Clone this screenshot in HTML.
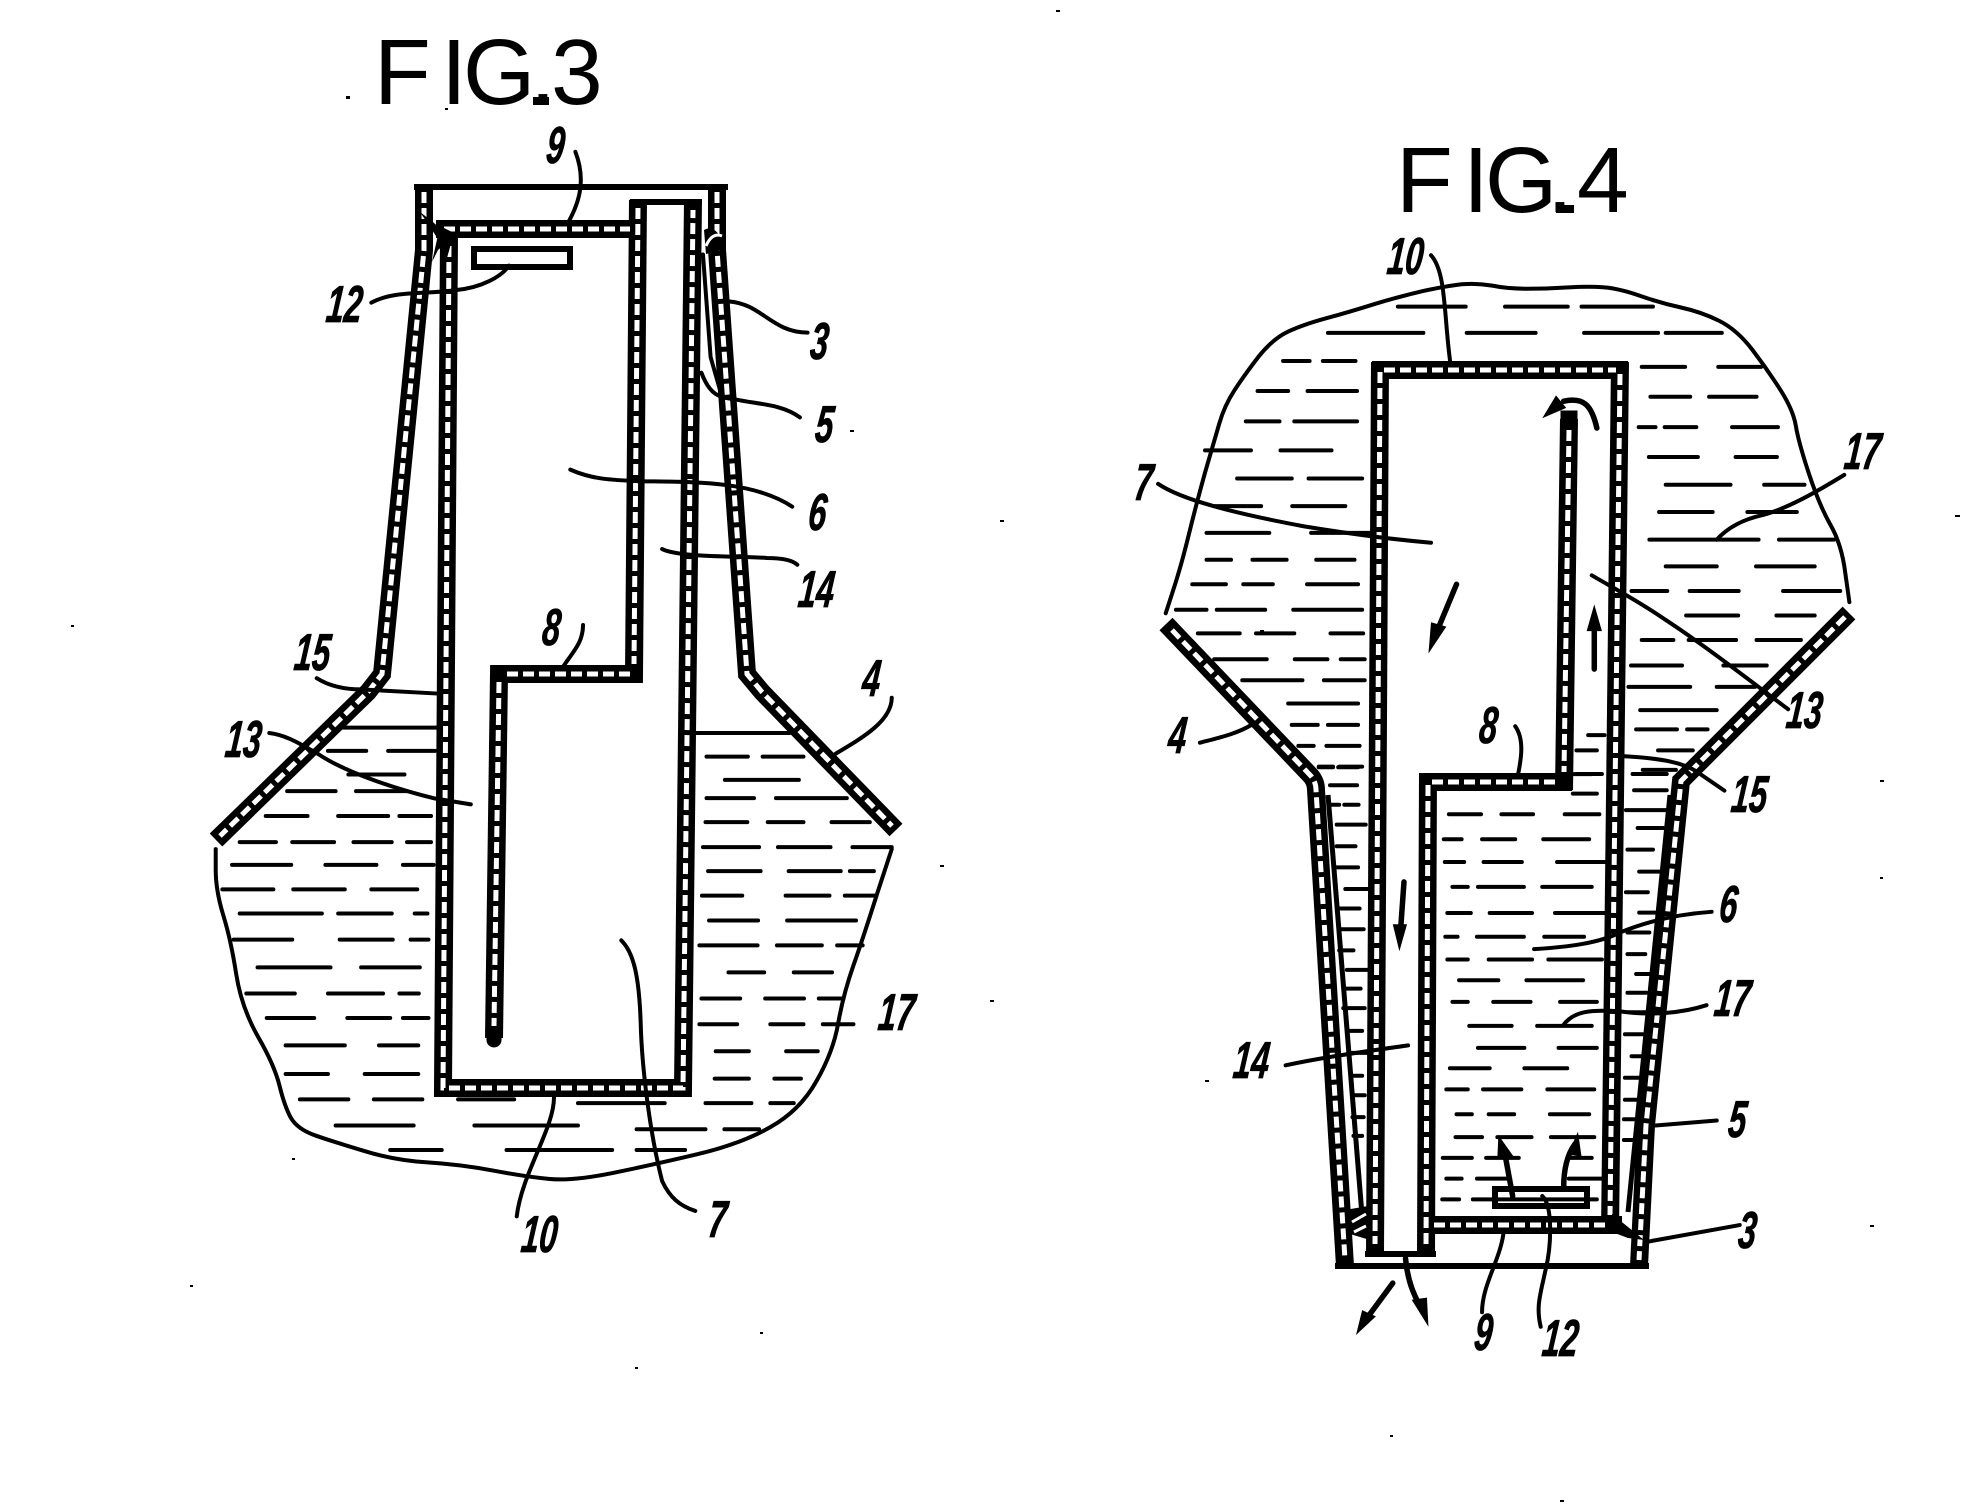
<!DOCTYPE html>
<html><head><meta charset="utf-8"><style>
html,body{margin:0;padding:0;background:#fff}
svg{display:block}
.w{fill:none;stroke:#000;stroke-width:18;stroke-linejoin:miter}
.d{fill:none;stroke:#fff;stroke-width:5;stroke-dasharray:11 5}
.t path,.a path{vector-effect:non-scaling-stroke;fill:none;stroke:#000;stroke-linecap:round;stroke-linejoin:round}
.t path{stroke-width:4}
.a path{stroke-width:5.5}
.a polygon{fill:#000}
.T{font-family:"Liberation Sans",sans-serif;font-size:93px;fill:#000}
.n{font-family:"Liberation Sans",sans-serif;font-weight:bold;font-style:italic;font-size:52px;fill:#000;stroke:#000;stroke-width:.8px}
</style></head><body>
<svg xmlns="http://www.w3.org/2000/svg" width="1988" height="1506" viewBox="0 0 1988 1506">
<rect width="1988" height="1506" fill="#fff"/>

<text class="T" x="374 441 463 530 551" y="104">FIG.3</text>
<rect x="533" y="97" width="16" height="8"/>
<text class="T" x="1396 1463 1485 1547 1577" y="212">FIG.4</text>
<rect x="1556" y="205" width="18" height="8"/>

<!-- FIG 3 walls -->
<path class="w" d="M424 186L424 250L382 674L368 692L216 840"/>
<path class="w" d="M717 186L717 250L747 674L762 692L896 830"/>
<path class="w" d="M449 236L443 1088L683 1088L693 200"/>
<path class="w" d="M436 229L640 229"/>
<path class="w" d="M638 200L634 674L499 674L494 1038"/>
<path class="d" d="M424 192L424 250L382 674L368 692L220 836"/>
<path class="d" d="M717 192L717 250L747 674L762 692L892 826"/>
<path class="d" d="M449 246L443 1088L683 1088L693 210"/>
<path class="d" d="M444 229L630 229"/>
<path class="d" d="M638 208L634 664"/>
<path class="d" d="M630 674L504 674"/>
<path class="d" d="M499 682L494 1026"/>
<path d="M414 187H728M630 202H702" stroke="#000" stroke-width="6" fill="none"/>
<path d="M494 1038v2" stroke="#000" stroke-width="15" stroke-linecap="round"/>
<rect x="474" y="249" width="96" height="18" fill="none" stroke="#000" stroke-width="6"/>
<path d="M420 212L440 242L447 258L452 240L433 222Z" fill="#000"/>
<path d="M432 262L438 250L456 234L440 226Z" fill="#000"/>
<path d="M704 230Q714 224 722 240L722 250L706 254Z" fill="#000"/>
<path d="M706 246Q712 232 722 236" stroke="#fff" stroke-width="3" fill="none"/>

<!-- FIG 4 walls -->
<path class="w" d="M1380 362L1375 1253"/>
<path class="w" d="M1372 370L1628 370"/>
<path class="w" d="M1620 362L1610 1232"/>
<path class="w" d="M1428 773L1426 1253"/>
<path class="w" d="M1420 782L1572 782"/>
<path class="w" d="M1569 419L1564 790"/>
<path class="w" d="M1420 1225L1622 1225"/>
<path class="w" d="M1166 624L1311 776Q1316 782 1316 790L1345 1266"/>
<path class="w" d="M1849 613L1681 781L1646 1125L1639 1266"/>
<path class="d" d="M1380 372L1375 1244"/>
<path class="d" d="M1384 370L1616 370"/>
<path class="d" d="M1620 374L1610 1215"/>
<path class="d" d="M1428 785L1426 1248"/>
<path class="d" d="M1432 782L1560 782"/>
<path class="d" d="M1569 430L1564 772"/>
<path class="d" d="M1434 1225L1606 1225"/>
<path class="d" d="M1172 630L1311 776Q1316 782 1316 790L1345 1260"/>
<path class="d" d="M1845 617L1681 781L1646 1125L1639 1260"/>
<path d="M1569 419v1" stroke="#000" stroke-width="17" stroke-linecap="square"/>
<path d="M1335 1266H1649M1365 1254H1436" stroke="#000" stroke-width="6" fill="none"/>
<path d="M1328 795L1362 1215M1670 795L1628 1212" stroke="#000" stroke-width="5" fill="none"/>
<rect x="1495" y="1189" width="92" height="17" fill="none" stroke="#000" stroke-width="6"/>
<path d="M1345 1210L1368 1206L1370 1240L1350 1234Z" fill="#000"/>
<path d="M1352 1222L1366 1214M1354 1232L1366 1226" stroke="#fff" stroke-width="3"/>
<path d="M1612 1214L1644 1240L1628 1238L1612 1232Z" fill="#000"/>

<!-- FIG 3 upper connectors -->
<g class="t" transform="translate(180 0) scale(.5102 .4464)">
<path d="M775 340C795 400 785 450 760 500M375 678C420 650 480 660 540 650C590 645 630 620 645 595M1075 675C1140 680 1160 745 1230 745M1022 835C1040 890 1060 890 1090 895C1130 905 1180 905 1215 935M765 1052C810 1075 850 1075 900 1078C1000 1080 1120 1075 1200 1135M945 1230C980 1250 1100 1245 1150 1250C1180 1250 1200 1255 1210 1265M790 1400C790 1440 770 1460 750 1495"/>
<path d="M1025 570L1040 800L1060 880"/>
</g>

<!-- FIG 3 lower -->
<g class="t" transform="translate(180 650) scale(.5102 .4149)">
<path d="M70 480L70 530Q70 580 85 640Q100 700 110 780Q120 860 152 930Q185 1000 195 1050Q205 1100 217 1127Q230 1155 265 1170Q300 1185 360 1207Q420 1230 485 1235Q550 1240 615 1255Q680 1270 725 1275Q770 1280 850 1260Q930 1240 1015 1215Q1100 1190 1157 1150Q1215 1110 1247 1040Q1280 970 1290 900Q1300 830 1320 760Q1340 690 1367 585L1395 480"/>
<path d="M268 68C290 85 320 95 355 95L505 105M320 187H505M1010 200H1195M175 200C210 205 240 230 270 250C330 300 440 340 500 358L570 372M1395 115C1395 170 1340 210 1285 250M733 1075C735 1150 670 1260 660 1365M865 700C890 730 900 790 903 900C905 1000 920 1160 945 1280C960 1320 980 1340 1010 1352"/>
<path d="M290 243H365M408 243H500M330 300H440M210 340H305M345 340H445M168 400H250M310 400H408M430 400H492M117 463H188M220 463H302M340 463H415M445 463H492M102 518H218M285 518H385M437 518H497M83 577H183M222 577H323M375 577H465M117 635H278M310 635H415M460 635H485M105 698H220M313 698H417M452 698H487M152 765H295M355 765H470M130 828H225M290 828H398M430 828H468M170 887H263M328 887H412M437 887H487M207 953H323M390 953H467M207 1022H290M362 1022H467M235 1083H330M380 1083H475M545 1083H655M780 1092H950M1030 1092H1120M1157 1092H1203M305 1146H458M577 1146H780M895 1155H1030M1067 1155H1135M412 1205H513M640 1205H847M895 1205H990"/>
<path d="M1032 257H1113M1142 257H1222M1068 313H1213M1032 357H1125M1168 357H1307M1030 415H1112M1152 415H1222M1277 415H1352M1025 475H1135M1172 475H1275M1318 475H1395M1035 533H1138M1193 533H1295M1313 533H1360M1023 592H1102M1187 592H1273M1303 592H1365M1037 652H1133M1190 652H1325M1018 712H1132M1170 712H1258M1288 712H1338M1075 777H1145M1203 777H1278M1022 840H1098M1147 840H1223M1252 840H1300M1018 902H1092M1157 902H1222M1260 902H1320M1050 967H1115M1188 967H1250M1048 1033H1115M1165 1033H1217"/>
</g>

<!-- FIG 4 upper -->
<g class="t" transform="translate(1130 120) scale(.5102 .4464)">
<path d="M70 1105L85 1052Q100 1000 115 930Q130 860 147 790Q165 720 175 680Q185 640 205 605Q225 570 252 530Q280 490 310 474Q340 458 385 444Q430 430 480 412Q530 395 575 383Q620 372 650 368Q680 365 710 371Q740 378 780 378Q820 378 860 375Q900 372 930 375Q960 378 1000 394Q1040 410 1080 420Q1120 430 1155 450Q1190 470 1220 515Q1250 560 1275 605Q1300 650 1305 685Q1310 720 1330 790Q1350 860 1372 905Q1395 950 1402 1015L1410 1080"/>
<path d="M590 303C620 340 615 440 628 545M55 815C100 850 200 880 340 910C420 925 520 940 590 947M1400 795C1350 830 1290 870 1240 885C1200 895 1170 915 1150 940M905 1020C950 1050 1000 1080 1050 1120C1130 1180 1220 1260 1290 1320M137 1395C170 1385 210 1375 238 1355M755 1358C775 1390 765 1440 760 1470"/>
<path d="M525 418H658M735 418H858M885 418H1025M388 477H575M660 477H795M890 477H1035M1050 477H1160M300 540H352M378 540H442M1003 553H1088M1153 553H1237M250 607H310M348 607H445M1020 620H1098M1135 620H1228M227 675H293M322 675H445M997 688H1030M1048 688H1110M1180 688H1270M147 740H237M295 740H395M1017 755H1113M1187 755H1268M210 803H317M350 803H455M1050 817H1177M1243 817H1322M165 865H257M318 865H422M1037 878H1142M1210 878H1307M150 925H273M355 925H470M1018 940H1232M1272 940H1380M150 985H198M240 985H307M365 985H440M1050 1000H1150M1227 1000H1342M122 1040H188M222 1040H280M347 1040H447M983 1055H1053M1097 1055H1193M1280 1055H1392M90 1097H150M170 1097H265M320 1097H455M1090 1110H1192M1267 1110H1342M133 1150H215M247 1150H322M393 1150H457M1003 1165H1065M1095 1165H1188M1228 1165H1315M165 1208H268M323 1208H387M413 1208H460M982 1222H1082M1163 1222H1248M220 1255H338M380 1255H460M977 1270H1098M1150 1270H1225M310 1307H447M1000 1322H1150M317 1355H368M388 1355H447M992 1365H1072M1092 1365H1132M330 1402H360M385 1402H450M898 1378H930M875 1412H915M1035 1412H1103M370 1450H398M408 1450H447M875 1465H925M985 1465H1052"/>
</g>
<g class="a" transform="translate(1130 120) scale(.5102 .4464)">
<path d="M640 1040L600 1150M910 1230L910 1130M915 690C905 640 890 620 850 630"/>
<polygon points="585,1195 590,1125 620,1135"/>
<polygon points="910,1085 895,1145 925,1145"/>
<polygon points="808,668 835,617 855,645"/>
</g>

<!-- FIG 4 lower -->
<g class="t" transform="translate(1130 750) scale(.5102 .4149)">
<path d="M970 15C1040 20 1090 30 1120 60L1165 98M792 480C860 475 920 465 960 440C1020 410 1080 395 1140 390M850 662C870 630 900 625 960 630C1020 640 1080 635 1130 615M305 760C380 740 470 725 545 712M1030 905L1150 893M1015 1185L1195 1145M732 1165C725 1230 690 1290 690 1355M808 1075C830 1100 825 1200 815 1250C805 1310 795 1340 805 1390"/>
<path d="M370 40H398M410 40H455M392 85H445M392 132H410M420 132H448M405 180H462M405 232H442M400 283H447M422 335H465M412 382H450M412 432H458M410 483H438M425 530H465M425 575H452M418 622H460M430 677H455M435 730H470M435 785H455M438 832H460M436 885H458M438 930H455"/>
<path d="M1005 48H1070M988 97H1052M972 145H1055M995 188H1052M975 240H1025M998 293H1040M972 343H1015M998 392H1040M975 440H1018M975 492H1010M992 540H1022M975 585H1012M978 632H1030M970 685H1005M983 738H1015M970 790H1000M970 843H1005M968 890H1000M968 940H1000"/>
<path d="M870 58H905M868 105H915M625 155H688M728 155H790M852 155H920M615 215H650M690 215H755M810 215H900M617 270H655M693 270H768M837 270H930M632 330H662M682 330H772M808 330H905M622 393H668M705 393H788M833 393H930M618 450H642M680 450H772M812 450H890M622 505H662M703 505H788M820 505H925M645 555H722M777 555H888M632 607H662M712 607H785M843 607H915M665 665H748M798 665H905M682 718H773M840 718H915M627 767H705M773 767H857M620 818H662M692 818H767M818 818H910M640 878H670M703 878H753M823 878H900M638 933H690M720 933H787M825 933H910M613 983H670M698 983H762M860 983H905M620 1033H650M680 1033H745M860 1033H930M612 1083H645M672 1083H915"/>
</g>
<g class="a" transform="translate(1130 750) scale(.5102 .4149)">
<path d="M537 318L530 440M515 1285L470 1360M540 1225C545 1290 560 1320 572 1350M750 1075L735 975M850 1055C850 1000 860 970 872 950"/>
<polygon points="528,485 515,420 543,420"/>
<polygon points="443,1410 455,1350 482,1365"/>
<polygon points="585,1390 552,1325 582,1320"/>
<polygon points="722,928 720,985 752,980"/>
<polygon points="878,920 858,975 885,980"/>
</g>

<!-- labels FIG 3 -->
<g class="n">
<text transform="translate(545 163) skewX(-6) scale(.62 1)">9</text>
<text transform="translate(325 322) skewX(-6) scale(.62 1)">12</text>
<text transform="translate(809 359) skewX(-6) scale(.62 1)">3</text>
<text transform="translate(814 442) skewX(-6) scale(.62 1)">5</text>
<text transform="translate(807 530) skewX(-6) scale(.62 1)">6</text>
<text transform="translate(797 607) skewX(-6) scale(.62 1)">14</text>
<text transform="translate(541 645) skewX(-6) scale(.62 1)">8</text>
<text transform="translate(293 670) skewX(-6) scale(.62 1)">15</text>
<text transform="translate(861 696) skewX(-6) scale(.62 1)">4</text>
<text transform="translate(224 757) skewX(-6) scale(.62 1)">13</text>
<text transform="translate(877 1030) skewX(-6) scale(.62 1)">17</text>
<text transform="translate(520 1252) skewX(-6) scale(.62 1)">10</text>
<text transform="translate(707 1237) skewX(-6) scale(.62 1)">7</text>
<!-- labels FIG 4 -->
<text transform="translate(1386 274) skewX(-6) scale(.62 1)">10</text>
<text transform="translate(1133 500) skewX(-6) scale(.62 1)">7</text>
<text transform="translate(1843 469) skewX(-6) scale(.62 1)">17</text>
<text transform="translate(1167 753) skewX(-6) scale(.62 1)">4</text>
<text transform="translate(1478 743) skewX(-6) scale(.62 1)">8</text>
<text transform="translate(1785 728) skewX(-6) scale(.62 1)">13</text>
<text transform="translate(1730 812) skewX(-6) scale(.62 1)">15</text>
<text transform="translate(1718 922) skewX(-6) scale(.62 1)">6</text>
<text transform="translate(1713 1016) skewX(-6) scale(.62 1)">17</text>
<text transform="translate(1232 1078) skewX(-6) scale(.62 1)">14</text>
<text transform="translate(1727 1137) skewX(-6) scale(.62 1)">5</text>
<text transform="translate(1737 1248) skewX(-6) scale(.62 1)">3</text>
<text transform="translate(1473 1350) skewX(-6) scale(.62 1)">9</text>
<text transform="translate(1541 1356) skewX(-6) scale(.62 1)">12</text>
</g>

<!-- scan specks -->
<g fill="#000">
<rect x="1056" y="10" width="4" height="2"/><rect x="346" y="96" width="4" height="3"/><rect x="445" y="108" width="3" height="2"/>
<rect x="1000" y="520" width="4" height="2"/><rect x="71" y="625" width="3" height="2"/><rect x="1955" y="515" width="5" height="2"/>
<rect x="1260" y="630" width="4" height="2"/><rect x="940" y="865" width="4" height="2"/><rect x="990" y="1000" width="4" height="2"/>
<rect x="1205" y="1080" width="4" height="2"/><rect x="292" y="1158" width="3" height="2"/><rect x="190" y="1285" width="3" height="2"/>
<rect x="635" y="1367" width="3" height="2"/><rect x="760" y="1332" width="3" height="2"/><rect x="1390" y="1435" width="3" height="2"/>
<rect x="1560" y="1500" width="4" height="2"/><rect x="1870" y="1225" width="4" height="2"/><rect x="1880" y="780" width="4" height="2"/>
<rect x="1880" y="877" width="3" height="2"/><rect x="850" y="430" width="4" height="2"/>
</g>
</svg>
</body></html>
